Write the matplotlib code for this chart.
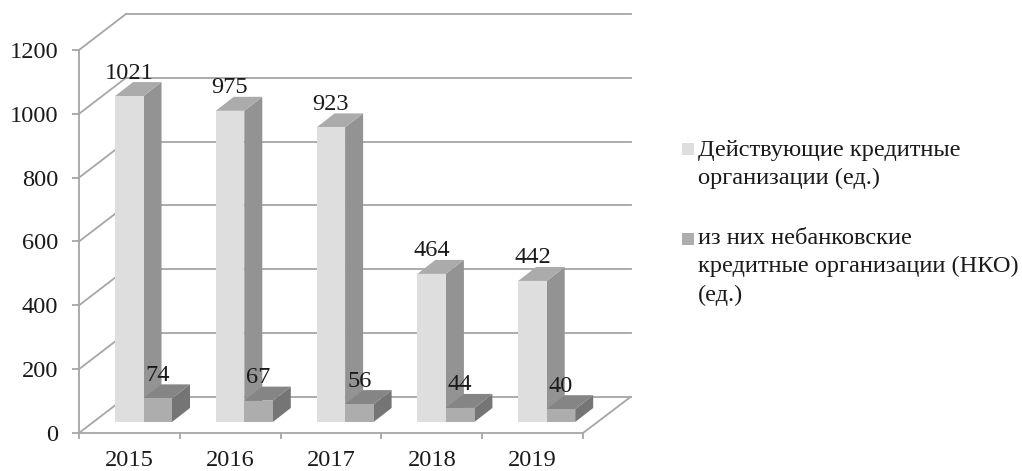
import matplotlib
matplotlib.use('Agg')
import matplotlib.pyplot as plt
from matplotlib.patches import Polygon, Rectangle

years = ['2015', '2016', '2017', '2018', '2019']
active_orgs = [1021, 975, 923, 464, 442]
nko_orgs = [74, 67, 56, 44, 40]
y_ticks = [0, 200, 400, 600, 800, 1000, 1200]
legend_labels = ['Действующие кредитные\nорганизации (ед.)',
                 'из них небанковские\nкредитные организации (НКО)\n(ед.)']

plt.rcParams['font.family'] = ['Liberation Serif', 'DejaVu Serif']

W, H = 1022, 471
LINE = '#a6a6a6'
TEXT = '#1a1a1a'
FONT = 17.6

fig = plt.figure(figsize=(W / 100, H / 100), dpi=100)
# axes = front plane of the fake 3d box, in pixels: x 79-583, y 50-433
ax = fig.add_axes([79 / W, 1 - 433 / H, 504 / W, 383 / H])
ax.set_xlim(0, 5)
ax.set_ylim(0, 1200)
ax.patch.set_alpha(0)

# depth of the box and of the bars, in data units
box_dx, box_dy = 47 / 100.8, 36 / 0.319
bar_dx, bar_dy = 18 / 100.8, 14 / 0.319
floor_dy = 11 / 0.319
back_right = 5 + 47.5 / 100.8


def draw_bar(x0, width, value, front, side, top):
    y0 = floor_dy
    y1 = floor_dy + value
    x1 = x0 + width
    ax.add_patch(Polygon([(x1, y0), (x1 + bar_dx, y0 + bar_dy), (x1 + bar_dx, y1 + bar_dy), (x1, y1)],
                         facecolor=side, edgecolor='none', clip_on=False, zorder=3))
    ax.add_patch(Polygon([(x0, y1), (x1, y1), (x1 + bar_dx, y1 + bar_dy), (x0 + bar_dx, y1 + bar_dy)],
                         facecolor=top, edgecolor='none', clip_on=False, zorder=3))
    ax.add_patch(Rectangle((x0, y0), width, value, facecolor=front, edgecolor='none',
                           clip_on=False, zorder=3))
    ax.annotate(str(value), (x0 + width / 2, y1), xytext=(0, 23 * 0.72), textcoords='offset points',
                ha='center', va='center', fontsize=FONT, color=TEXT, zorder=6, annotation_clip=False)


# Back wall lines and left wall diagonals
for v in y_ticks:
    ax.plot([0, box_dx], [v, v + box_dy], color=LINE, lw=1.3, clip_on=False, zorder=1)
    ax.plot([box_dx, back_right], [v + box_dy, v + box_dy], color=LINE, lw=1.3, clip_on=False, zorder=1)
ax.plot([5, back_right], [0, box_dy], color=LINE, lw=1.3, clip_on=False, zorder=1)

# Bars
bar_w = 28.5 / 100.8
bar_start = 36 / 100.8
for i in range(len(years)):
    draw_bar(i + bar_start, bar_w, active_orgs[i], '#dedede', '#939393', '#ababab')
    draw_bar(i + bar_start + bar_w, bar_w, nko_orgs[i], '#adadad', '#757575', '#858585')

# Axes
for name in ['top', 'right']:
    ax.spines[name].set_visible(False)
for name in ['left', 'bottom']:
    ax.spines[name].set_color(LINE)
    ax.spines[name].set_linewidth(1.3)
    ax.spines[name].set_zorder(2)

ax.set_yticks(y_ticks)
ax.tick_params(axis='y', length=5, width=1.3, color=LINE, pad=10, labelsize=FONT, labelcolor=TEXT)
ax.set_xticks(range(6))
ax.set_xticklabels([])
ax.set_xticks([i + 0.5 for i in range(5)], labels=years, minor=True)
ax.tick_params(axis='x', which='major', length=4, width=1.3, color=LINE)
ax.tick_params(axis='x', which='minor', length=0, pad=12, labelsize=FONT, labelcolor=TEXT)

# Legend
squares = [(682, 143, '#dedede'), (682, 233, '#adadad')]
text_tops = [140, 228]
for (sx, sy, c), ty, label in zip(squares, text_tops, legend_labels):
    fig.add_artist(Rectangle((sx / W, 1 - (sy + 12) / H), 11.5 / W, 12 / H,
                             transform=fig.transFigure, facecolor=c, edgecolor='none'))
    fig.text(698 / W, 1 - ty / H, label, ha='left', va='top', fontsize=FONT,
             color=TEXT, linespacing=1.44)

fig.savefig('out.png', dpi=100)
